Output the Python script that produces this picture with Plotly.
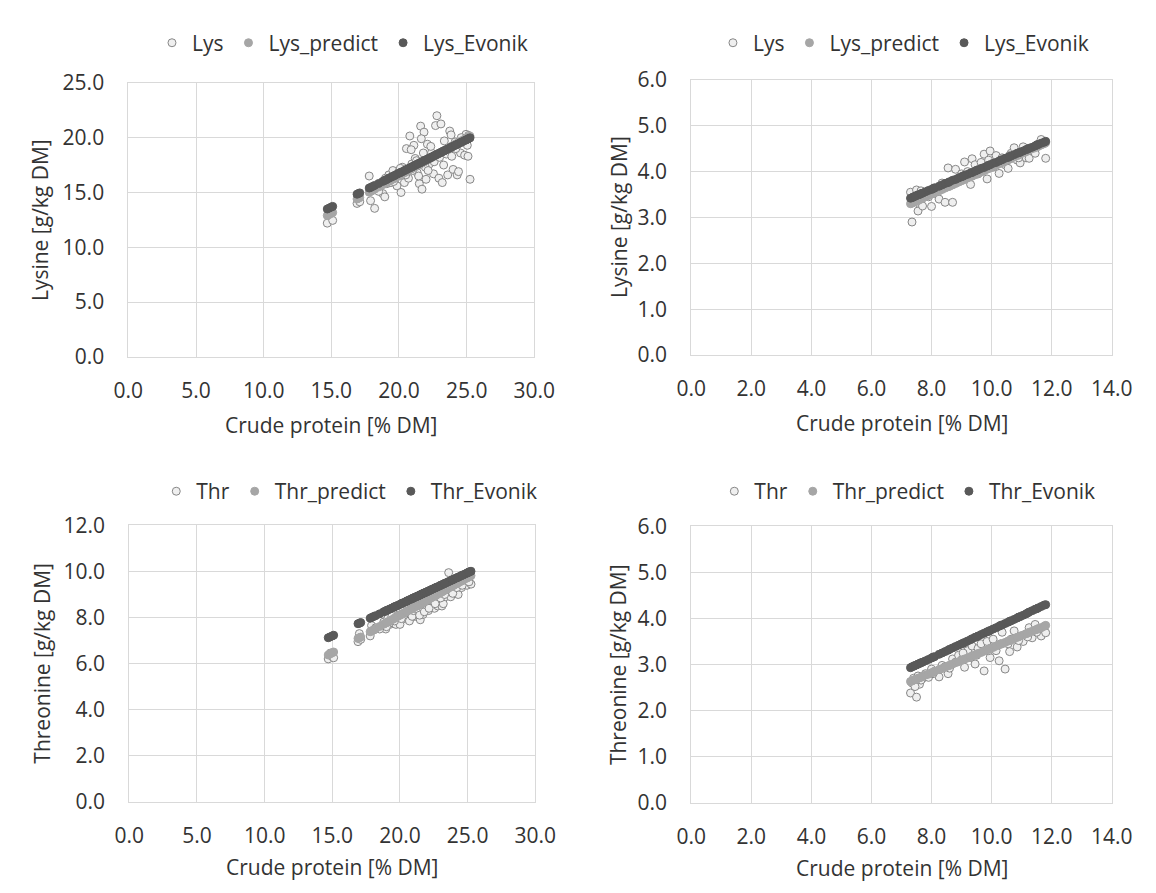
import plotly.graph_objects as go

# ---------------- data: first sample group (left panels) ----------------
cp_left = [14.70, 14.85, 15.00, 15.10, 16.90, 17.00, 17.10, 17.80, 17.90, 18.05,
           18.20, 18.80, 18.95, 19.10, 19.25, 19.40, 19.55, 19.70, 19.85, 20.00,
           20.15, 20.25, 20.40, 20.55, 20.70, 20.80, 20.95, 21.10, 21.20, 21.35,
           21.50, 21.60, 21.70, 21.85, 22.00, 22.10, 22.25, 22.40, 22.55, 22.70,
           22.80, 22.95, 23.10, 23.20, 23.35, 23.50, 23.60, 23.75, 23.85, 24.00,
           24.15, 24.30, 24.40, 24.55, 24.70, 24.85, 24.95, 25.05, 25.15, 25.25,
           19.00, 19.60, 20.10, 20.50, 20.90, 21.00, 21.30, 21.45, 21.65, 21.80,
           21.95, 22.15, 22.35, 22.60, 23.00, 23.30, 23.90, 24.20, 24.60, 25.10,
           18.50]

lys_left = [12.20, 13.00, 13.30, 12.45, 14.00, 14.45, 14.15, 16.50, 14.25, 15.30,
            13.55, 14.90, 14.60, 15.80, 16.60, 15.90, 17.00, 16.20, 15.60, 16.90,
            15.00, 17.30, 15.90, 19.00, 16.30, 20.15, 17.60, 19.30, 18.10, 16.80,
            15.80, 21.05, 15.30, 20.50, 16.20, 19.40, 17.60, 18.60, 16.70, 21.10,
            22.00, 16.30, 21.25, 15.90, 19.70, 18.50, 16.60, 20.60, 20.25, 17.10,
            19.60, 16.60, 16.90, 18.60, 19.90, 18.40, 20.30, 19.30, 20.20, 16.20,
            16.30, 16.00, 17.20, 16.60, 18.90, 17.00, 17.90, 16.50, 19.90, 18.60,
            17.30, 17.00, 19.20, 17.80, 18.20, 17.50, 18.30, 19.00, 20.00, 18.30,
            15.10]

lys_predict_left = [12.89, 13.00, 13.10, 13.17, 14.40, 14.47, 14.54, 15.02, 15.09, 15.19,
                    15.30, 15.71, 15.81, 15.91, 16.02, 16.12, 16.22, 16.32, 16.43, 16.53,
                    16.63, 16.70, 16.80, 16.91, 17.01, 17.08, 17.18, 17.28, 17.35, 17.46,
                    17.56, 17.63, 17.70, 17.80, 17.90, 17.97, 18.07, 18.18, 18.28, 18.38,
                    18.45, 18.55, 18.66, 18.73, 18.83, 18.93, 19.00, 19.10, 19.17, 19.27,
                    19.38, 19.48, 19.55, 19.65, 19.75, 19.86, 19.93, 19.99, 20.06, 20.13,
                    15.84, 16.26, 16.60, 16.87, 17.15, 17.22, 17.42, 17.52, 17.66, 17.76,
                    17.87, 18.00, 18.14, 18.31, 18.59, 18.79, 19.21, 19.41, 19.69, 20.03,
                    15.50]

lys_evonik_left = [13.49, 13.58, 13.67, 13.73, 14.84, 14.90, 14.96, 15.40, 15.46, 15.55,
                   15.64, 16.01, 16.10, 16.19, 16.29, 16.38, 16.47, 16.56, 16.66, 16.75,
                   16.84, 16.90, 16.99, 17.09, 17.18, 17.24, 17.33, 17.42, 17.49, 17.58,
                   17.67, 17.73, 17.79, 17.89, 17.98, 18.04, 18.13, 18.22, 18.32, 18.41,
                   18.47, 18.56, 18.65, 18.72, 18.81, 18.90, 18.96, 19.05, 19.12, 19.21,
                   19.30, 19.39, 19.45, 19.55, 19.64, 19.73, 19.79, 19.85, 19.92, 19.98,
                   16.13, 16.50, 16.81, 17.06, 17.30, 17.36, 17.55, 17.64, 17.76, 17.86,
                   17.95, 18.07, 18.19, 18.35, 18.59, 18.78, 19.15, 19.33, 19.58, 19.88,
                   15.82]

thr_left = [6.20, 6.45, 6.30, 6.25, 6.95, 7.30, 7.05, 7.20, 7.65, 7.45,
            7.55, 7.80, 7.50, 7.95, 7.70, 8.05, 7.75, 7.70, 8.10, 7.70,
            8.00, 8.30, 7.95, 8.10, 7.85, 8.40, 8.20, 8.05, 8.45, 8.15,
            7.90, 8.55, 8.13, 8.35, 8.60, 8.30, 8.70, 8.65, 8.40, 8.80,
            8.50, 8.95, 8.50, 8.60, 8.90, 9.10, 9.95, 8.90, 9.20, 9.35,
            9.10, 9.00, 9.45, 9.30, 9.60, 9.55, 9.40, 9.70, 9.85, 9.45,
            7.60, 7.85, 7.95, 8.20, 8.05, 8.30, 8.35, 8.10, 8.45, 8.25,
            8.55, 8.40, 8.75, 8.60, 8.85, 9.00, 9.05, 9.30, 9.40, 9.55,
            7.50]

thr_predict_left = [6.37, 6.42, 6.47, 6.50, 7.09, 7.12, 7.15, 7.38, 7.41, 7.46,
                    7.51, 7.71, 7.76, 7.81, 7.86, 7.90, 7.95, 8.00, 8.05, 8.10,
                    8.15, 8.18, 8.23, 8.28, 8.33, 8.36, 8.41, 8.46, 8.49, 8.54,
                    8.59, 8.62, 8.66, 8.71, 8.75, 8.79, 8.84, 8.89, 8.93, 8.98,
                    9.02, 9.07, 9.11, 9.15, 9.20, 9.24, 9.28, 9.33, 9.36, 9.41,
                    9.46, 9.51, 9.54, 9.59, 9.64, 9.69, 9.72, 9.75, 9.78, 9.82,
                    7.77, 7.97, 8.13, 8.26, 8.39, 8.43, 8.53, 8.57, 8.64, 8.69,
                    8.74, 8.80, 8.87, 8.95, 9.08, 9.18, 9.38, 9.47, 9.60, 9.77,
                    7.61]

thr_evonik_left = [7.12, 7.16, 7.20, 7.23, 7.73, 7.75, 7.78, 7.97, 8.00, 8.04,
                   8.08, 8.25, 8.29, 8.33, 8.37, 8.41, 8.45, 8.49, 8.53, 8.57,
                   8.62, 8.64, 8.68, 8.73, 8.77, 8.79, 8.84, 8.88, 8.90, 8.94,
                   8.99, 9.01, 9.04, 9.08, 9.12, 9.15, 9.19, 9.23, 9.27, 9.31,
                   9.34, 9.38, 9.42, 9.45, 9.49, 9.53, 9.56, 9.60, 9.63, 9.67,
                   9.71, 9.75, 9.78, 9.82, 9.86, 9.90, 9.93, 9.96, 9.99, 10.01,
                   8.30, 8.47, 8.60, 8.71, 8.82, 8.85, 8.93, 8.97, 9.03, 9.07,
                   9.11, 9.16, 9.22, 9.29, 9.40, 9.48, 9.64, 9.73, 9.84, 9.97,
                   8.16]

# ---------------- data: second sample group (right panels) ----------------
cp_right = [7.30, 7.35, 7.40, 7.50, 7.55, 7.60, 7.70, 7.80, 7.90, 8.00,
            8.10, 8.25, 8.35, 8.45, 8.55, 8.70, 8.80, 8.90, 9.00, 9.10,
            9.20, 9.30, 9.35, 9.45, 9.55, 9.65, 9.75, 9.85, 9.95, 10.05,
            10.15, 10.25, 10.35, 10.45, 10.55, 10.65, 10.75, 10.85, 10.95, 11.05,
            11.15, 11.25, 11.35, 11.45, 11.55, 11.65, 11.75, 11.80,
            7.45, 7.65, 8.05, 8.60, 9.05, 9.50, 9.90, 10.30, 10.60, 10.90, 11.20, 11.50]

lys_right = [3.55, 2.90, 3.35, 3.60, 3.14, 3.30, 3.25, 3.50, 3.45, 3.24,
             3.65, 3.40, 3.75, 3.33, 4.08, 3.33, 4.05, 3.85, 3.95, 4.21,
             4.00, 3.72, 4.28, 4.15, 3.95, 4.20, 4.38, 3.84, 4.45, 4.10,
             4.35, 3.96, 4.30, 4.15, 4.07, 4.40, 4.52, 4.25, 4.19, 4.54,
             4.30, 4.29, 4.45, 4.40, 4.60, 4.70, 4.62, 4.29,
             3.40, 3.58, 3.52, 3.70, 3.90, 4.00, 4.25, 4.20, 4.35, 4.30, 4.45, 4.55]

lys_predict_right = [3.30, 3.31, 3.33, 3.36, 3.37, 3.39, 3.42, 3.45, 3.48, 3.51,
                     3.54, 3.58, 3.61, 3.64, 3.67, 3.71, 3.74, 3.77, 3.80, 3.83,
                     3.86, 3.89, 3.90, 3.93, 3.96, 3.99, 4.02, 4.05, 4.08, 4.11,
                     4.14, 4.17, 4.20, 4.23, 4.26, 4.29, 4.32, 4.35, 4.38, 4.41,
                     4.44, 4.47, 4.50, 4.52, 4.55, 4.58, 4.61, 4.63,
                     3.34, 3.40, 3.52, 3.68, 3.82, 3.95, 4.07, 4.19, 4.27, 4.36, 4.45, 4.54]

lys_evonik_right = [3.42, 3.43, 3.45, 3.48, 3.49, 3.50, 3.53, 3.56, 3.59, 3.61,
                    3.64, 3.68, 3.71, 3.74, 3.76, 3.81, 3.83, 3.86, 3.89, 3.92,
                    3.94, 3.97, 3.98, 4.01, 4.04, 4.07, 4.09, 4.12, 4.15, 4.18,
                    4.20, 4.23, 4.26, 4.29, 4.31, 4.34, 4.37, 4.40, 4.42, 4.45,
                    4.48, 4.51, 4.53, 4.56, 4.59, 4.62, 4.64, 4.66,
                    3.46, 3.52, 3.63, 3.78, 3.90, 4.03, 4.14, 4.25, 4.33, 4.41, 4.49, 4.58]

thr_right = [2.38, 2.60, 2.70, 2.29, 2.75, 2.57, 2.70, 2.80, 2.72, 2.90,
             2.85, 2.73, 2.98, 2.95, 2.80, 3.12, 3.05, 3.20, 3.10, 2.94,
             3.30, 3.15, 3.40, 3.01, 3.35, 3.45, 2.86, 3.50, 3.15, 3.55,
             3.30, 3.08, 3.70, 2.90, 3.45, 3.55, 3.73, 3.38, 3.60, 3.50,
             3.65, 3.80, 3.58, 3.87, 3.75, 3.62, 3.82, 3.69,
             2.52, 2.66, 2.80, 2.92, 3.25, 3.20, 3.30, 3.45, 3.28, 3.52, 3.60, 3.70]

thr_predict_right = [2.63, 2.64, 2.66, 2.68, 2.70, 2.71, 2.74, 2.77, 2.79, 2.82,
                     2.85, 2.89, 2.91, 2.94, 2.97, 3.01, 3.04, 3.06, 3.09, 3.12,
                     3.14, 3.17, 3.18, 3.21, 3.24, 3.26, 3.29, 3.32, 3.35, 3.37,
                     3.40, 3.43, 3.45, 3.48, 3.51, 3.53, 3.56, 3.59, 3.62, 3.64,
                     3.67, 3.70, 3.72, 3.75, 3.78, 3.80, 3.83, 3.85,
                     2.67, 2.72, 2.83, 2.98, 3.10, 3.22, 3.33, 3.44, 3.52, 3.60, 3.68, 3.76]

thr_evonik_right = [2.93, 2.95, 2.96, 2.99, 3.01, 3.02, 3.05, 3.08, 3.11, 3.14,
                    3.17, 3.22, 3.25, 3.28, 3.31, 3.36, 3.39, 3.42, 3.45, 3.48,
                    3.51, 3.54, 3.56, 3.59, 3.62, 3.65, 3.68, 3.71, 3.74, 3.77,
                    3.80, 3.83, 3.86, 3.89, 3.92, 3.95, 3.98, 4.01, 4.04, 4.07,
                    4.10, 4.14, 4.17, 4.20, 4.23, 4.26, 4.29, 4.30,
                    2.98, 3.04, 3.16, 3.33, 3.46, 3.60, 3.72, 3.85, 3.94, 4.03, 4.12, 4.21]

x_title = "Crude protein [% DM]"
y_titles = ["Lysine [g/kg DM]", "Lysine [g/kg DM]", "Threonine [g/kg DM]", "Threonine [g/kg DM]"]
lys_names = ["Lys", "Lys_predict", "Lys_Evonik"]
thr_names = ["Thr", "Thr_predict", "Thr_Evonik"]

# ---------------- styling ----------------
W, H = 1156, 893
FONT = "Open Sans, Noto Sans, sans-serif"
TXT = "#333333"
GRID = "#d9d9d9"
FS = 21

C_OBS_FILL, C_OBS_LINE = "#efefef", "#878787"
C_PRED = "#a6a6a6"
C_EVO = "#595959"
MS = 8


def px_x(p):
    return p / W


def px_y(p):
    return 1 - p / H


# plot areas in pixels (left, right, top, bottom)
areas = [
    (117, 536, 70, 353),
    (698, 1132, 67, 351),
    (118, 537, 527, 812),
    (698, 1132, 528, 813),
]

panels = [
    (cp_left, lys_left, lys_predict_left, lys_evonik_left, lys_names, [0, 30], 5, [0, 25], 5),
    (cp_right, lys_right, lys_predict_right, lys_evonik_right, lys_names, [0, 14], 2, [0, 6], 1),
    (cp_left, thr_left, thr_predict_left, thr_evonik_left, thr_names, [0, 30], 5, [0, 12], 2),
    (cp_right, thr_right, thr_predict_right, thr_evonik_right, thr_names, [0, 14], 2, [0, 6], 1),
]

legend_centers = [(338, 29), (917, 29), (345, 492), (921, 492)]
ytitle_x = [26, 624, 27, 623]
xtitle_y = [423, 421, 880, 881]

fig = go.Figure()
layout = dict(
    width=W, height=H, autosize=False,
    margin=dict(l=0, r=0, t=0, b=0),
    paper_bgcolor="white", plot_bgcolor="white",
    font=dict(family=FONT, size=FS, color=TXT),
    annotations=[],
)

for i, (xs, obs, pred, evo, names, xr, xd, yr, yd) in enumerate(panels):
    n = i + 1
    xa = "x" if n == 1 else f"x{n}"
    ya = "y" if n == 1 else f"y{n}"
    lg = "legend" if n == 1 else f"legend{n}"
    common = dict(x=xs, mode="markers", xaxis=xa, yaxis=ya, legend=lg, cliponaxis=False)
    fig.add_trace(go.Scatter(y=obs, name=names[0],
                             marker=dict(size=MS, color=C_OBS_FILL, line=dict(color=C_OBS_LINE, width=1)),
                             **common))
    fig.add_trace(go.Scatter(y=pred, name=names[1],
                             marker=dict(size=MS, color=C_PRED, line=dict(color=C_PRED, width=1)),
                             **common))
    fig.add_trace(go.Scatter(y=evo, name=names[2],
                             marker=dict(size=MS, color=C_EVO, line=dict(color=C_EVO, width=1)),
                             **common))

    l, r, t, b = areas[i]
    ax_common = dict(showgrid=True, gridcolor=GRID, gridwidth=1, zeroline=False,
                     showline=True, linecolor=GRID, linewidth=1, mirror=True,
                     tickformat=".1f", ticks="", tickfont=dict(family=FONT, size=FS, color=TXT),
                     fixedrange=True)
    layout["xaxis" if n == 1 else f"xaxis{n}"] = dict(
        domain=[px_x(l), px_x(r)], range=xr, dtick=xd, tick0=0, anchor=ya,
        ticklabelstandoff=15, **ax_common)
    layout["yaxis" if n == 1 else f"yaxis{n}"] = dict(
        domain=[px_y(b), px_y(t)], range=yr, dtick=yd, tick0=0, anchor=xa,
        ticklabelstandoff=19, **ax_common)

    cx, cy = legend_centers[i]
    layout[lg] = dict(orientation="h", x=px_x(cx), y=px_y(cy), xanchor="center", yanchor="middle",
                      font=dict(family=FONT, size=FS, color=TXT), bgcolor="rgba(0,0,0,0)",
                      itemwidth=30, tracegroupgap=0, traceorder="normal")

    layout["annotations"].append(dict(
        text=x_title, xref="paper", yref="paper", x=px_x((l + r) / 2), y=px_y(xtitle_y[i]),
        xanchor="center", yanchor="middle", showarrow=False,
        font=dict(family=FONT, size=FS, color=TXT)))
    layout["annotations"].append(dict(
        text=y_titles[i], xref="paper", yref="paper", x=px_x(ytitle_x[i]), y=px_y((t + b) / 2),
        xanchor="center", yanchor="middle", showarrow=False, textangle=-90,
        font=dict(family=FONT, size=FS, color=TXT)))

fig.update_layout(**layout)
fig.write_html("out.html")
